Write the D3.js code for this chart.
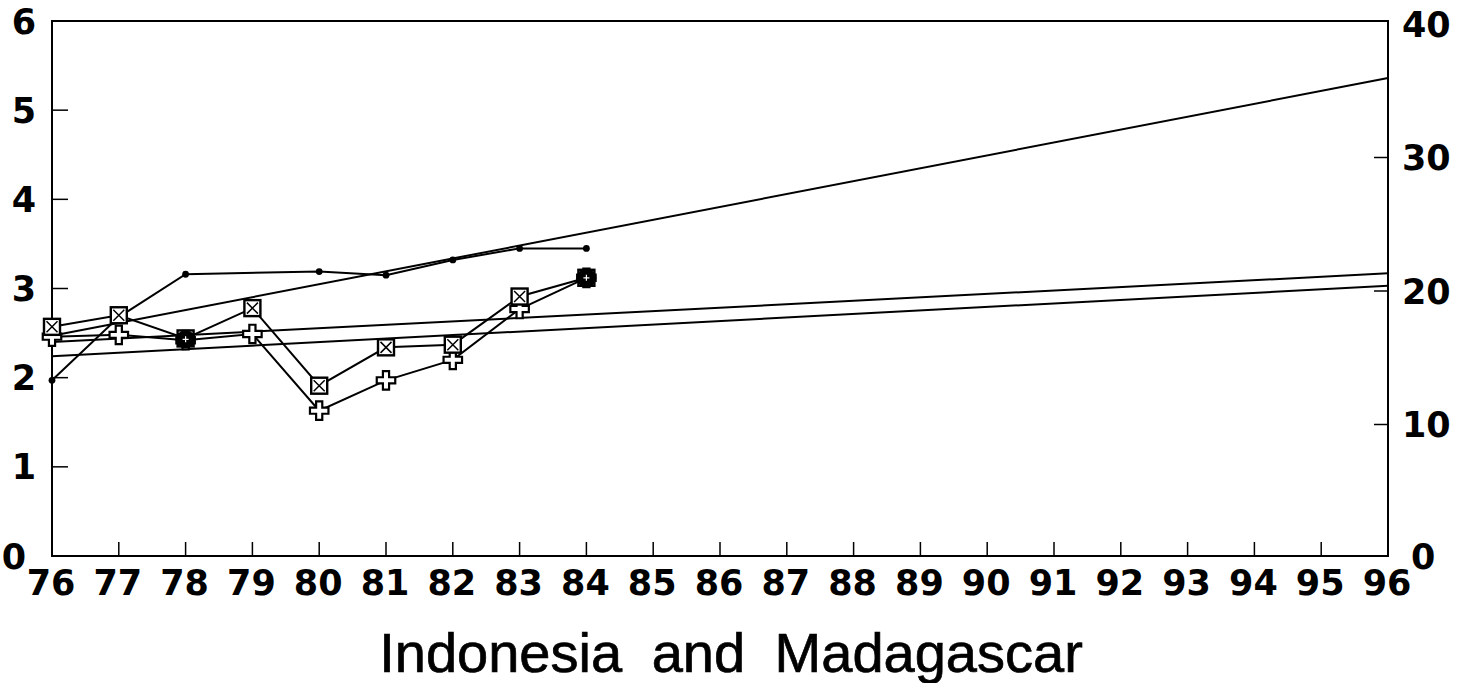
<!DOCTYPE html>
<html>
<head>
<meta charset="utf-8">
<script src="https://cdn.jsdelivr.net/npm/d3@7"></script>
<style>
  body { margin: 0; background: #fff; }
  svg { display: block; }
  text { font-family: "Liberation Sans", Arial, Helvetica, sans-serif; fill: #000; }
  .tick-label { font-family: "DejaVu Sans", sans-serif; font-size: 35px; font-weight: bold; }
  .title { font-size: 56px; word-spacing: 14px; stroke: #000; stroke-width: 0.7px; }
</style>
</head>
<body>
<div id="chart"></div>
<script>
// data
const years = [76, 77, 78, 79, 80, 81, 82, 83, 84];
const dotSeries = [1.97, 2.68, 3.16, null, 3.19, 3.15, 3.32, 3.45, 3.45];
const squareSeries = [2.57, 2.70, 2.44, 2.78, 1.91, 2.34, 2.37, 2.91, 3.12];
const plusSeries = [2.46, 2.48, 2.42, 2.49, 1.63, 1.97, 2.20, 2.77, 3.12];

// straight trend lines, 76 -> 96
const trendYears = [76, 96];
const trendA = [2.47, 5.36];
const trendB = [2.40, 3.17];
const trendC = [2.24, 3.03];

const xTicks = d3.range(76, 97);
const leftTicks = [0, 1, 2, 3, 4, 5, 6];
const rightTicks = [0, 10, 20, 30, 40];
const title = "Indonesia and Madagascar";

const width = 1462;
const height = 683;

const svg = d3.select("#chart")
  .append("svg")
  .attr("width", width)
  .attr("height", height);

const x = d3.scaleLinear().domain([76, 96]).range([52, 1388]);
const yL = d3.scaleLinear().domain([0, 6]).range([556, 21]);
const yR = d3.scaleLinear().domain([0, 40]).range([558, 24]);

// frame
svg.append("rect")
  .attr("x", x(76)).attr("y", yL(6))
  .attr("width", x(96) - x(76)).attr("height", yL(0) - yL(6))
  .attr("fill", "none").attr("stroke", "#000").attr("stroke-width", 2);

// left axis ticks + labels
svg.append("g").selectAll("line")
  .data(leftTicks.filter(d => d > 0 && d < 6))
  .enter().append("line")
  .attr("x1", x(76)).attr("x2", x(76) + 16)
  .attr("y1", d => yL(d)).attr("y2", d => yL(d))
  .attr("stroke", "#000").attr("stroke-width", 1.5);

// the 0 labels sit in the corners, nudged clear of the year labels
svg.append("g").selectAll("text")
  .data(leftTicks)
  .enter().append("text")
  .attr("class", "tick-label")
  .attr("x", d => d === 0 ? 26 : 36)
  .attr("y", d => yL(d))
  .attr("dy", "0.36em")
  .attr("text-anchor", "end")
  .text(d => d);

// right axis
svg.append("g").selectAll("line")
  .data(rightTicks.filter(d => d > 0 && d < 40))
  .enter().append("line")
  .attr("x1", x(96)).attr("x2", x(96) - 14)
  .attr("y1", d => yR(d)).attr("y2", d => yR(d))
  .attr("stroke", "#000").attr("stroke-width", 1.5);

svg.append("g").selectAll("text")
  .data(rightTicks)
  .enter().append("text")
  .attr("class", "tick-label")
  .attr("x", d => d === 0 ? 1411 : 1402)
  .attr("y", d => yR(d) - (d === 0 ? 2 : 0))
  .attr("dy", "0.36em")
  .text(d => d);

// bottom axis
svg.append("g").selectAll("line")
  .data(xTicks.filter(d => d > 76 && d < 96))
  .enter().append("line")
  .attr("x1", d => x(d)).attr("x2", d => x(d))
  .attr("y1", yL(0)).attr("y2", yL(0) - 14)
  .attr("stroke", "#000").attr("stroke-width", 1.5);

svg.append("g").selectAll("text")
  .data(xTicks)
  .enter().append("text")
  .attr("class", "tick-label")
  .attr("x", d => x(d) - 1)
  .attr("y", 595)
  .attr("text-anchor", "middle")
  .text(d => d);

svg.append("text")
  .attr("class", "title")
  .attr("x", 731)
  .attr("y", 672)
  .attr("text-anchor", "middle")
  .text(title);

// lines
const line = d3.line().x(d => x(d[0])).y(d => yL(d[1]));
const pairs = arr => years.map((yr, i) => [yr, arr[i]]).filter(d => d[1] != null);

[trendA, trendB, trendC].forEach(t => {
  svg.append("path")
    .attr("d", line(trendYears.map((yr, i) => [yr, t[i]])))
    .attr("fill", "none").attr("stroke", "#000").attr("stroke-width", 2);
});

[dotSeries, squareSeries, plusSeries].forEach(s => {
  svg.append("path")
    .attr("d", line(pairs(s)))
    .attr("fill", "none").attr("stroke", "#000").attr("stroke-width", 2);
});

// dot markers
svg.append("g").selectAll("circle")
  .data(pairs(dotSeries))
  .enter().append("circle")
  .attr("cx", d => x(d[0])).attr("cy", d => yL(d[1]))
  .attr("r", 3.4).attr("fill", "#000");

// plus markers (hollow cross)
const cross = d3.symbol().type(d3.symbolCross).size(190);
svg.append("g").selectAll("path")
  .data(pairs(plusSeries))
  .enter().append("path")
  .attr("d", cross)
  .attr("transform", d => `translate(${x(d[0])},${yL(d[1])})`)
  .attr("fill", "#fff").attr("stroke", "#000").attr("stroke-width", 2.2);

// square markers with an x inside
const sq = svg.append("g").selectAll("g")
  .data(pairs(squareSeries))
  .enter().append("g")
  .attr("transform", d => `translate(${x(d[0])},${yL(d[1])})`);
sq.append("rect")
  .attr("x", -8).attr("y", -8).attr("width", 16).attr("height", 16)
  .attr("fill", "#fff").attr("stroke", "#000").attr("stroke-width", 2.4);
sq.append("path")
  .attr("d", "M-5.5,-5.5L5.5,5.5M5.5,-5.5L-5.5,5.5")
  .attr("stroke", "#000").attr("stroke-width", 1.5);

// where square and plus land on the same spot the print shows a black blob
const both = years.map((yr, i) => [yr, (squareSeries[i] + plusSeries[i]) / 2, Math.abs(squareSeries[i] - plusSeries[i])])
  .filter(d => d[2] < 0.05);
const blob = svg.append("g").selectAll("g")
  .data(both)
  .enter().append("g")
  .attr("transform", d => `translate(${x(d[0])},${yL(d[1])})`);
blob.append("ellipse")
  .attr("rx", 10).attr("ry", 9).attr("fill", "#000");
blob.append("path")
  .attr("d", "M-3,0H3M0,-3V3")
  .attr("stroke", "#fff").attr("stroke-width", 1.2);
</script>
</body>
</html>
